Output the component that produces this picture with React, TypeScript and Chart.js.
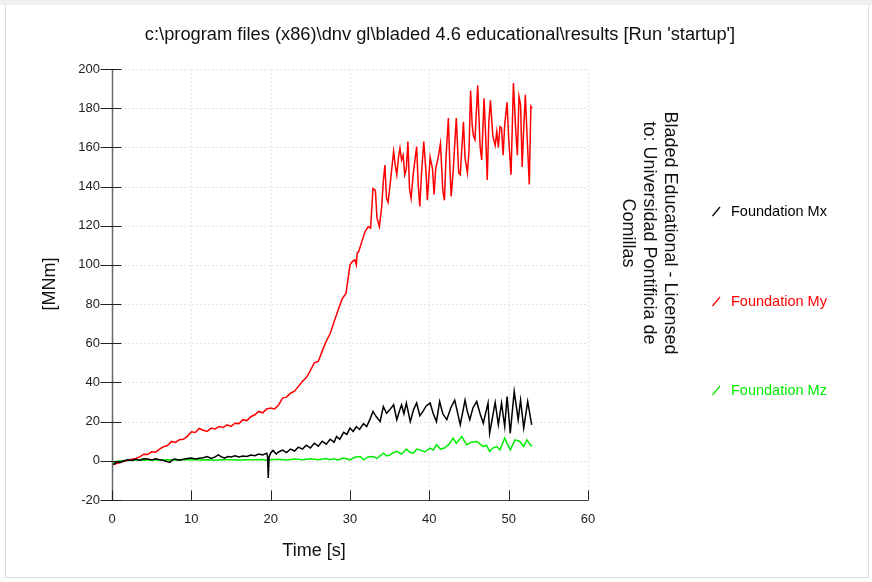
import React, { useEffect, useRef } from "react";
import { Chart, registerables } from "chart.js";
Chart.register(...registerables);

const TITLE = "c:\\program files (x86)\\dnv gl\\bladed 4.6 educational\\results [Run 'startup']";
const X_TITLE = "Time [s]";
const Y_TITLE = "[MNm]";
const LICENSE_LINES = ["Bladed Educational - Licensed", "to: Universidad Pontificia de", "Comillas"];
const SERIES_NAMES = ["Foundation Mx", "Foundation My", "Foundation Mz"];
const SERIES_COLORS = ["#000000", "#ff0000", "#00ee00"];
const X_TICKS = [0, 10, 20, 30, 40, 50, 60];
const Y_TICKS = [-20, 0, 20, 40, 60, 80, 100, 120, 140, 160, 180, 200];

// Foundation My (red)
const myTime = [0, 0.5, 1, 1.5, 2, 2.5, 3, 3.5, 4, 4.5, 5, 5.5, 6, 6.5, 7, 7.5, 8, 8.5, 9, 9.5, 10, 10.5, 11, 11.5, 12, 12.5, 13, 13.5, 14, 14.5, 15, 15.5, 16, 16.5, 17, 17.5, 18, 18.5, 19, 19.5, 20, 20.5, 21, 21.5, 22, 22.5, 23, 23.5, 24, 24.5, 25, 25.5, 26, 26.5, 27, 27.5, 28, 28.5, 29, 29.5, 30, 30.3, 30.6, 30.8, 30.9, 31.1, 31.5, 31.9, 32.3, 32.6, 32.9, 33.2, 33.4, 33.7, 34.0, 34.2, 34.4, 34.6, 34.8, 35.1, 35.5, 35.7, 35.9, 36.1, 36.3, 36.5, 36.7, 36.9, 37.1, 37.3, 37.5, 37.7, 38.0, 38.4, 38.6, 38.8, 39.0, 39.3, 39.6, 39.75, 40.1, 40.4, 40.6, 40.8, 41.1, 41.4, 41.7, 41.9, 42.1, 42.4, 42.6, 42.75, 43.0, 43.4, 43.7, 43.9, 44.3, 44.5, 44.8, 45.0, 45.2, 45.4, 45.55, 45.75, 46.1, 46.4, 46.6, 46.9, 47.1, 47.3, 47.5, 47.7, 48.0, 48.3, 48.5, 48.7, 48.9, 49.1, 49.3, 49.5, 49.8, 50.0, 50.3, 50.6, 50.9, 51.1, 51.3, 51.5, 51.7, 51.9, 52.1, 52.3, 52.6, 52.8, 52.95];
const myValues = [-2, -1.5, -0.8, -0.2, 0.3, 0.8, 1.2, 2.0, 3.4, 3.2, 4.6, 4.4, 6.0, 7.2, 7.8, 9.9, 9.4, 10.8, 11.0, 12.5, 14.8, 14.5, 16.5, 15.6, 15.0, 16.7, 16.3, 17.5, 17.0, 18.4, 17.6, 19.2, 19.0, 21.0, 20.5, 22.5, 23.5, 25.2, 24.5, 26.5, 27.0, 26.5, 28.5, 32.0, 32.5, 34.5, 35.5, 38.0, 40.5, 42.5, 46.0, 50.0, 50.7, 56.0, 61.0, 65.0, 71.0, 77.0, 82.5, 85.6, 100, 101.7, 102.6, 100, 106, 106.8, 112, 117, 119.6, 118.8, 139, 138, 124, 119.6, 129.8, 142.6, 151, 134, 132, 142.6, 158, 151, 146, 154.5, 159.6, 153.6, 156, 146, 149, 163, 139, 134, 147.6, 160.4, 141, 129.8, 146, 163, 146, 133, 155, 149, 136, 149, 154.5, 162, 138, 133, 154.5, 175, 149, 135, 147.6, 175, 147, 146, 173, 154.5, 147, 158, 189, 171.5, 166, 164, 191.6, 160.4, 153.6, 185, 166, 143.4, 173, 184, 166, 161, 168, 160, 170.6, 170, 156, 171.5, 183, 164.7, 146, 192.8, 168, 156, 186, 181.7, 150, 170, 186.8, 168, 141, 181, 180];

// Foundation Mx (black)
const mxTime = [0, 0.3, 0.6, 1, 1.5, 2, 2.5, 3, 3.5, 4, 4.5, 5, 5.5, 6, 6.5, 7, 7.3, 7.6, 7.9, 8.5, 9, 9.5, 10, 10.5, 11, 11.5, 12, 12.5, 13, 13.4, 13.8, 14.2, 14.6, 15, 15.5, 16, 16.5, 17, 17.5, 18, 18.5, 19, 19.5, 19.6, 19.7, 19.8, 20, 20.3, 20.7, 21, 21.5, 22, 22.5, 23, 23.5, 24, 24.5, 25, 25.5, 26, 26.5, 27, 27.5, 28, 28.3, 28.7, 29.2, 29.6, 30, 30.4, 30.8, 31.2, 31.7, 32.1, 32.5, 32.9, 33.3, 33.8, 34.2, 34.6, 35.0, 35.5, 35.9, 36.2, 36.5, 36.8, 37.1, 37.6, 38.0, 38.4, 38.8, 39.2, 39.6, 40.1, 40.5, 40.9, 41.3, 41.7, 42.2, 42.7, 43.2, 43.9, 44.5, 44.8, 45.1, 45.5, 45.97, 46.4, 46.8, 47.4, 47.6, 48.3, 48.7, 49.1, 49.5, 49.8, 50.2, 50.7, 51.2, 51.5, 51.9, 52.4, 52.9];
const mxValues = [-2, -1.5, -0.5, -1, 0, 0.5, 0.2, 0.8, 0.3, 1.0, 0.9, 0.4, 1.0, 0.5, 0.2, -0.5, -0.8, 0.5, 0.9, 0.3, 0.8, 1.2, 1.4, 0.9, 1.3, 1.6, 2.2, 1.2, 2.0, 3.0, 2.0, 1.4, 2.2, 2.0, 2.6, 2.0, 2.5, 2.2, 3.0, 2.6, 3.5, 3.0, 3.9, 2.5, -8.8, 2.0, 4.0, 5.3, 3.5, 4.5, 5.5, 4.2, 6.0, 5.0, 7.0, 6.0, 8.0, 6.5, 9.0, 7.5, 10.0, 8.5, 11.0, 9.5, 12.4, 11, 14.5, 13.5, 16.7, 15, 17.5, 16, 19, 17.5, 21, 25.2, 22.6, 20, 27.7, 24.3, 26, 28.6, 21, 25, 28.6, 24, 29.5, 20, 26, 29.5, 23, 25.2, 28, 29.5, 24, 20, 30.3, 24, 21, 27, 31, 18.4, 31, 25, 21, 27, 30.3, 24, 19.2, 29.5, 14.1, 29.8, 18.4, 29.5, 17.5, 32.8, 14.1, 35.4, 21, 31, 16.7, 30.3, 18.4];

// Foundation Mz (green)
const mzTime = [0, 0.5, 1, 2, 3, 4, 5, 6, 7, 8, 9, 10, 11, 12, 13, 14, 15, 16, 17, 18, 19, 19.7, 20, 21, 22, 23, 24, 25, 26, 27, 27.5, 28, 28.5, 29.2, 30, 30.6, 31.3, 31.7, 32.3, 32.9, 33.4, 34.2, 34.6, 35, 35.5, 35.9, 36.5, 37.1, 37.5, 38, 38.4, 38.8, 39.4, 40.1, 40.5, 40.9, 41.4, 41.9, 42.5, 43, 43.4, 44.1, 44.7, 45.3, 46, 46.4, 46.8, 47.2, 47.6, 48, 48.5, 48.9, 49.5, 50.2, 50.8, 51.4, 51.9, 52.3, 52.9];
const mzValues = [-1, -0.3, 0, 0.2, 0.5, 0.3, 0.5, 0.4, 0.6, 0.3, 0.5, 0.6, 0.4, 0.5, 0.3, 0.6, 0.5, 0.4, 0.6, 0.5, 0.7, 0.2, 0.6, 0.8, 0.4, 0.9, 0.5, 1.1, 0.6, 1.2, 0.5, 1.0, 0.4, 1.4, 0.5, 1.8, 2.2, 0.5, 2.0, 2.2, 1.2, 3.9, 2.5, 3, 4.2, 4.8, 3.5, 6, 4.5, 3.9, 6, 5.6, 4.5, 6.5, 5.5, 8.2, 6, 6.5, 8.5, 11.6, 9, 12.4, 8.2, 9.5, 9.9, 8.5, 7.3, 8, 4.8, 6.5, 7.3, 5.6, 11.6, 5.6, 10.7, 9.9, 7.3, 10.7, 7.3];

const FONT = "'Liberation Sans', Arial, sans-serif";

const toPoints = (t: number[], v: number[]) => t.map((x, i) => ({ x, y: v[i] }));

const decorPlugin = {
  id: "decor",
  beforeDatasetsDraw(chart: any) {
    const { ctx, chartArea, scales } = chart;
    const xs = scales.x;
    const ys = scales.y;
    ctx.save();
    ctx.strokeStyle = "#e3e3e3";
    ctx.lineWidth = 1;
    ctx.setLineDash([2, 2]);
    for (const v of Y_TICKS) {
      const py = Math.round(ys.getPixelForValue(v)) + 0.5;
      ctx.beginPath();
      ctx.moveTo(chartArea.left, py);
      ctx.lineTo(chartArea.right, py);
      ctx.stroke();
    }
    for (const v of X_TICKS) {
      const px = Math.round(xs.getPixelForValue(v)) + 0.5;
      ctx.beginPath();
      ctx.moveTo(px, chartArea.top);
      ctx.lineTo(px, chartArea.bottom);
      ctx.stroke();
    }
    ctx.restore();
  },
  afterDatasetsDraw(chart: any) {
    const { ctx, scales } = chart;
    const xs = scales.x;
    const ys = scales.y;
    const ax = Math.round(xs.getPixelForValue(0)) + 0.5;
    const ay = Math.round(ys.getPixelForValue(-20)) + 0.5;
    ctx.save();
    // axes lines
    ctx.strokeStyle = "#6a6a6a";
    ctx.lineWidth = 1.5;
    ctx.beginPath();
    ctx.moveTo(ax, ys.getPixelForValue(200));
    ctx.lineTo(ax, ay);
    ctx.stroke();
    ctx.strokeStyle = "#444";
    ctx.lineWidth = 1;
    ctx.beginPath();
    ctx.moveTo(ax, ay);
    ctx.lineTo(xs.getPixelForValue(60), ay);
    ctx.stroke();
    // ticks
    ctx.strokeStyle = "#222";
    for (const v of Y_TICKS) {
      const py = Math.round(ys.getPixelForValue(v)) + 0.5;
      ctx.beginPath();
      ctx.moveTo(ax - 12, py);
      ctx.lineTo(ax + 9, py);
      ctx.stroke();
    }
    for (const v of X_TICKS) {
      const px = Math.round(xs.getPixelForValue(v)) + 0.5;
      ctx.beginPath();
      ctx.moveTo(px, ay - 10);
      ctx.lineTo(px, ay);
      ctx.stroke();
    }
    // title
    ctx.fillStyle = "#111";
    ctx.textAlign = "center";
    ctx.textBaseline = "middle";
    ctx.font = `18.3px ${FONT}`;
    ctx.fillText(TITLE, 440, 35);
    ctx.font = `18px ${FONT}`;
    ctx.fillText(X_TITLE, 314, 551);
    ctx.save();
    ctx.translate(50, 284);
    ctx.rotate(-Math.PI / 2);
    ctx.fillText(Y_TITLE, 0, 0);
    ctx.restore();
    // license text
    ctx.save();
    ctx.translate(670, 233);
    ctx.rotate(Math.PI / 2);
    ctx.font = `18px ${FONT}`;
    LICENSE_LINES.forEach((line, i) => ctx.fillText(line, 0, i * 21));
    ctx.restore();
    // legend
    const legendY = [211, 301, 390];
    ctx.font = `14.5px ${FONT}`;
    ctx.textAlign = "left";
    SERIES_NAMES.forEach((name, i) => {
      const yy = legendY[i];
      ctx.strokeStyle = SERIES_COLORS[i];
      ctx.lineWidth = 1.2;
      ctx.beginPath();
      ctx.moveTo(712.5, yy + 5);
      ctx.lineTo(720, yy - 4);
      ctx.stroke();
      ctx.fillStyle = SERIES_COLORS[i];
      ctx.fillText(name, 731, yy + 1);
    });
    ctx.restore();
  },
};

export default function App() {
  const ref = useRef<HTMLCanvasElement | null>(null);
  useEffect(() => {
    if (!ref.current) return;
    const chart = new Chart(ref.current, {
      type: "line",
      data: {
        datasets: [
          { label: SERIES_NAMES[0], data: toPoints(mxTime, mxValues), borderColor: SERIES_COLORS[0], borderWidth: 1.5, pointRadius: 0, tension: 0 },
          { label: SERIES_NAMES[1], data: toPoints(myTime, myValues), borderColor: SERIES_COLORS[1], borderWidth: 1.5, pointRadius: 0, tension: 0 },
          { label: SERIES_NAMES[2], data: toPoints(mzTime, mzValues), borderColor: SERIES_COLORS[2], borderWidth: 1.5, pointRadius: 0, tension: 0 },
        ],
      },
      options: {
        animation: false,
        responsive: false,
        maintainAspectRatio: false,
        layout: { padding: { left: 0, top: 69, right: 284, bottom: 0 } },
        plugins: { legend: { display: false }, tooltip: { enabled: false }, title: { display: false } },
        scales: {
          x: {
            type: "linear",
            min: 0,
            max: 60,
            grid: { display: false, drawTicks: false },
            border: { display: false },
            ticks: { stepSize: 10, padding: 12, color: "#222", font: { family: FONT, size: 13 }, maxRotation: 0 },
            afterFit: (s: any) => { s.height = 82; },
          },
          y: {
            type: "linear",
            min: -20,
            max: 200,
            grid: { display: false, drawTicks: false },
            border: { display: false },
            ticks: { stepSize: 20, padding: 12, color: "#222", font: { family: FONT, size: 13 } },
            afterFit: (s: any) => { s.width = 112; },
          },
        },
      },
      plugins: [decorPlugin],
    });
    return () => chart.destroy();
  }, []);
  return (
    <div style={{ position: "fixed", left: 0, top: 0, width: 872, height: 582, background: "#fff" }}>
      <div style={{ position: "absolute", left: 0, top: 0, width: 872, height: 5, background: "#f0f0f0" }} />
      <div style={{ position: "absolute", left: 5, top: 5, width: 862, height: 572, border: "1px solid #dcdcdc", borderTop: "none" }} />
      <canvas ref={ref} width={872} height={582} style={{ position: "absolute", left: 0, top: 0, width: 872, height: 582 }} />
    </div>
  );
}
